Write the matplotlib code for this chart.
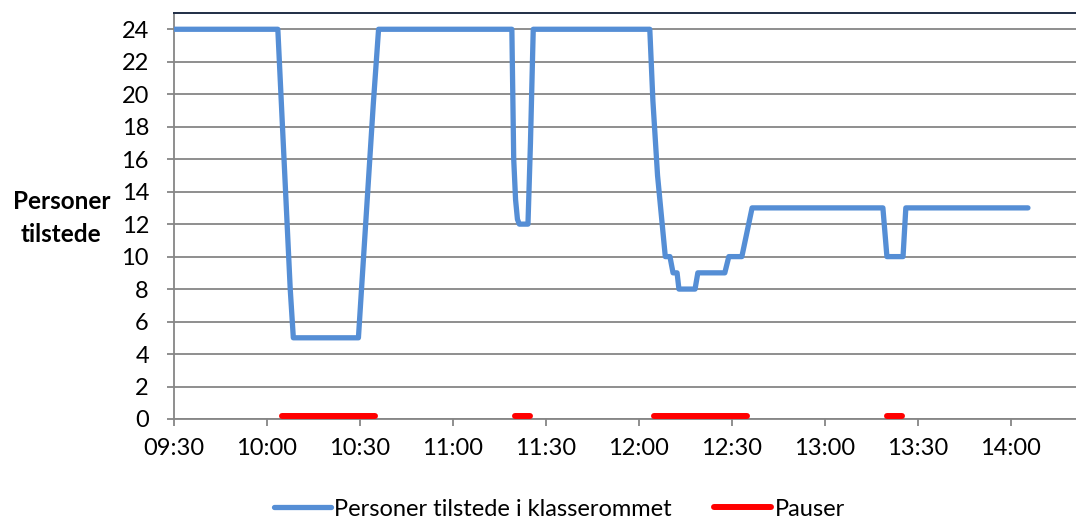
import matplotlib
matplotlib.use("Agg")
import matplotlib.pyplot as plt

# minutes after 09:30
present_min = [0, 33.5, 35, 36.5, 37.5, 38.5, 59.5, 61.5, 63.5, 64.3, 66.0,
               109.0, 109.6, 110.2, 110.8, 111.4, 114.2, 115.0, 115.9,
               153.5, 154.5, 156.0, 157.5, 158.5, 160.0, 161.0, 162.3, 162.9,
               168.1, 169.0, 177.7, 179.0, 183.2, 186.5,
               228.7, 230.0, 235.2, 236.1, 275.5]
present_val = [24, 24, 18, 12, 8, 5, 5, 11, 17, 19.4, 24,
               24, 16, 13.5, 12.3, 12, 12, 17, 24,
               24, 19.6, 15, 12, 10, 10, 9, 9, 8,
               8, 9, 9, 10, 10, 13,
               13, 10, 10, 13, 13]

pauses = [(35, 65), (110, 115), (155, 185), (230, 235)]
pause_level = 0.2

tick_min = list(range(0, 271, 30))
tick_labels = ["09:30", "10:00", "10:30", "11:00", "11:30",
               "12:00", "12:30", "13:00", "13:30", "14:00"]

plt.rcParams["font.family"] = ["Lato", "DejaVu Sans"]

fig = plt.figure(figsize=(10.76, 5.21), dpi=100)
ax = fig.add_axes([0.1617, 0.1958, 0.8383, 0.7792])

grid_col = "#868686"
ax.plot(present_min, present_val, color="#558ED5", linewidth=3.8,
        solid_joinstyle="round", solid_capstyle="round",
        label="Personer tilstede i klasserommet", zorder=3)
for i, (a, b) in enumerate(pauses):
    ax.plot([a, b], [pause_level, pause_level], color="#FF0000", linewidth=4.3,
            solid_capstyle="round", zorder=3,
            label="Pauser" if i == 0 else None)

ax.set_xlim(0, 291)
ax.set_ylim(0, 25)
ax.set_yticks(range(0, 25, 2))
ax.set_xticks(tick_min)
ax.set_xticklabels(tick_labels)
ax.yaxis.grid(True, color=grid_col, linewidth=1.3)
ax.set_axisbelow(True)
ax.tick_params(axis="both", colors=grid_col, labelcolor="black",
               labelsize=17, length=5, width=1.3)
ax.tick_params(axis="x", pad=9)
ax.tick_params(axis="y", pad=13)
for side in ["left", "bottom"]:
    ax.spines[side].set_color(grid_col)
    ax.spines[side].set_linewidth(1.3)
ax.spines["right"].set_visible(False)
ax.spines["top"].set_color("#1F2D45")
ax.spines["top"].set_linewidth(1.4)

fig.text(0.057, 0.582, "Personer\ntilstede", ha="center", va="center",
         fontsize=17.5, fontweight="bold", linespacing=1.55)

leg = fig.legend(loc="center", bbox_to_anchor=(0.52, 0.023), ncol=2,
                 frameon=False, fontsize=17, handlelength=2.4,
                 handletextpad=0.15, columnspacing=1.8)

fig.savefig("out.png", dpi=100)
